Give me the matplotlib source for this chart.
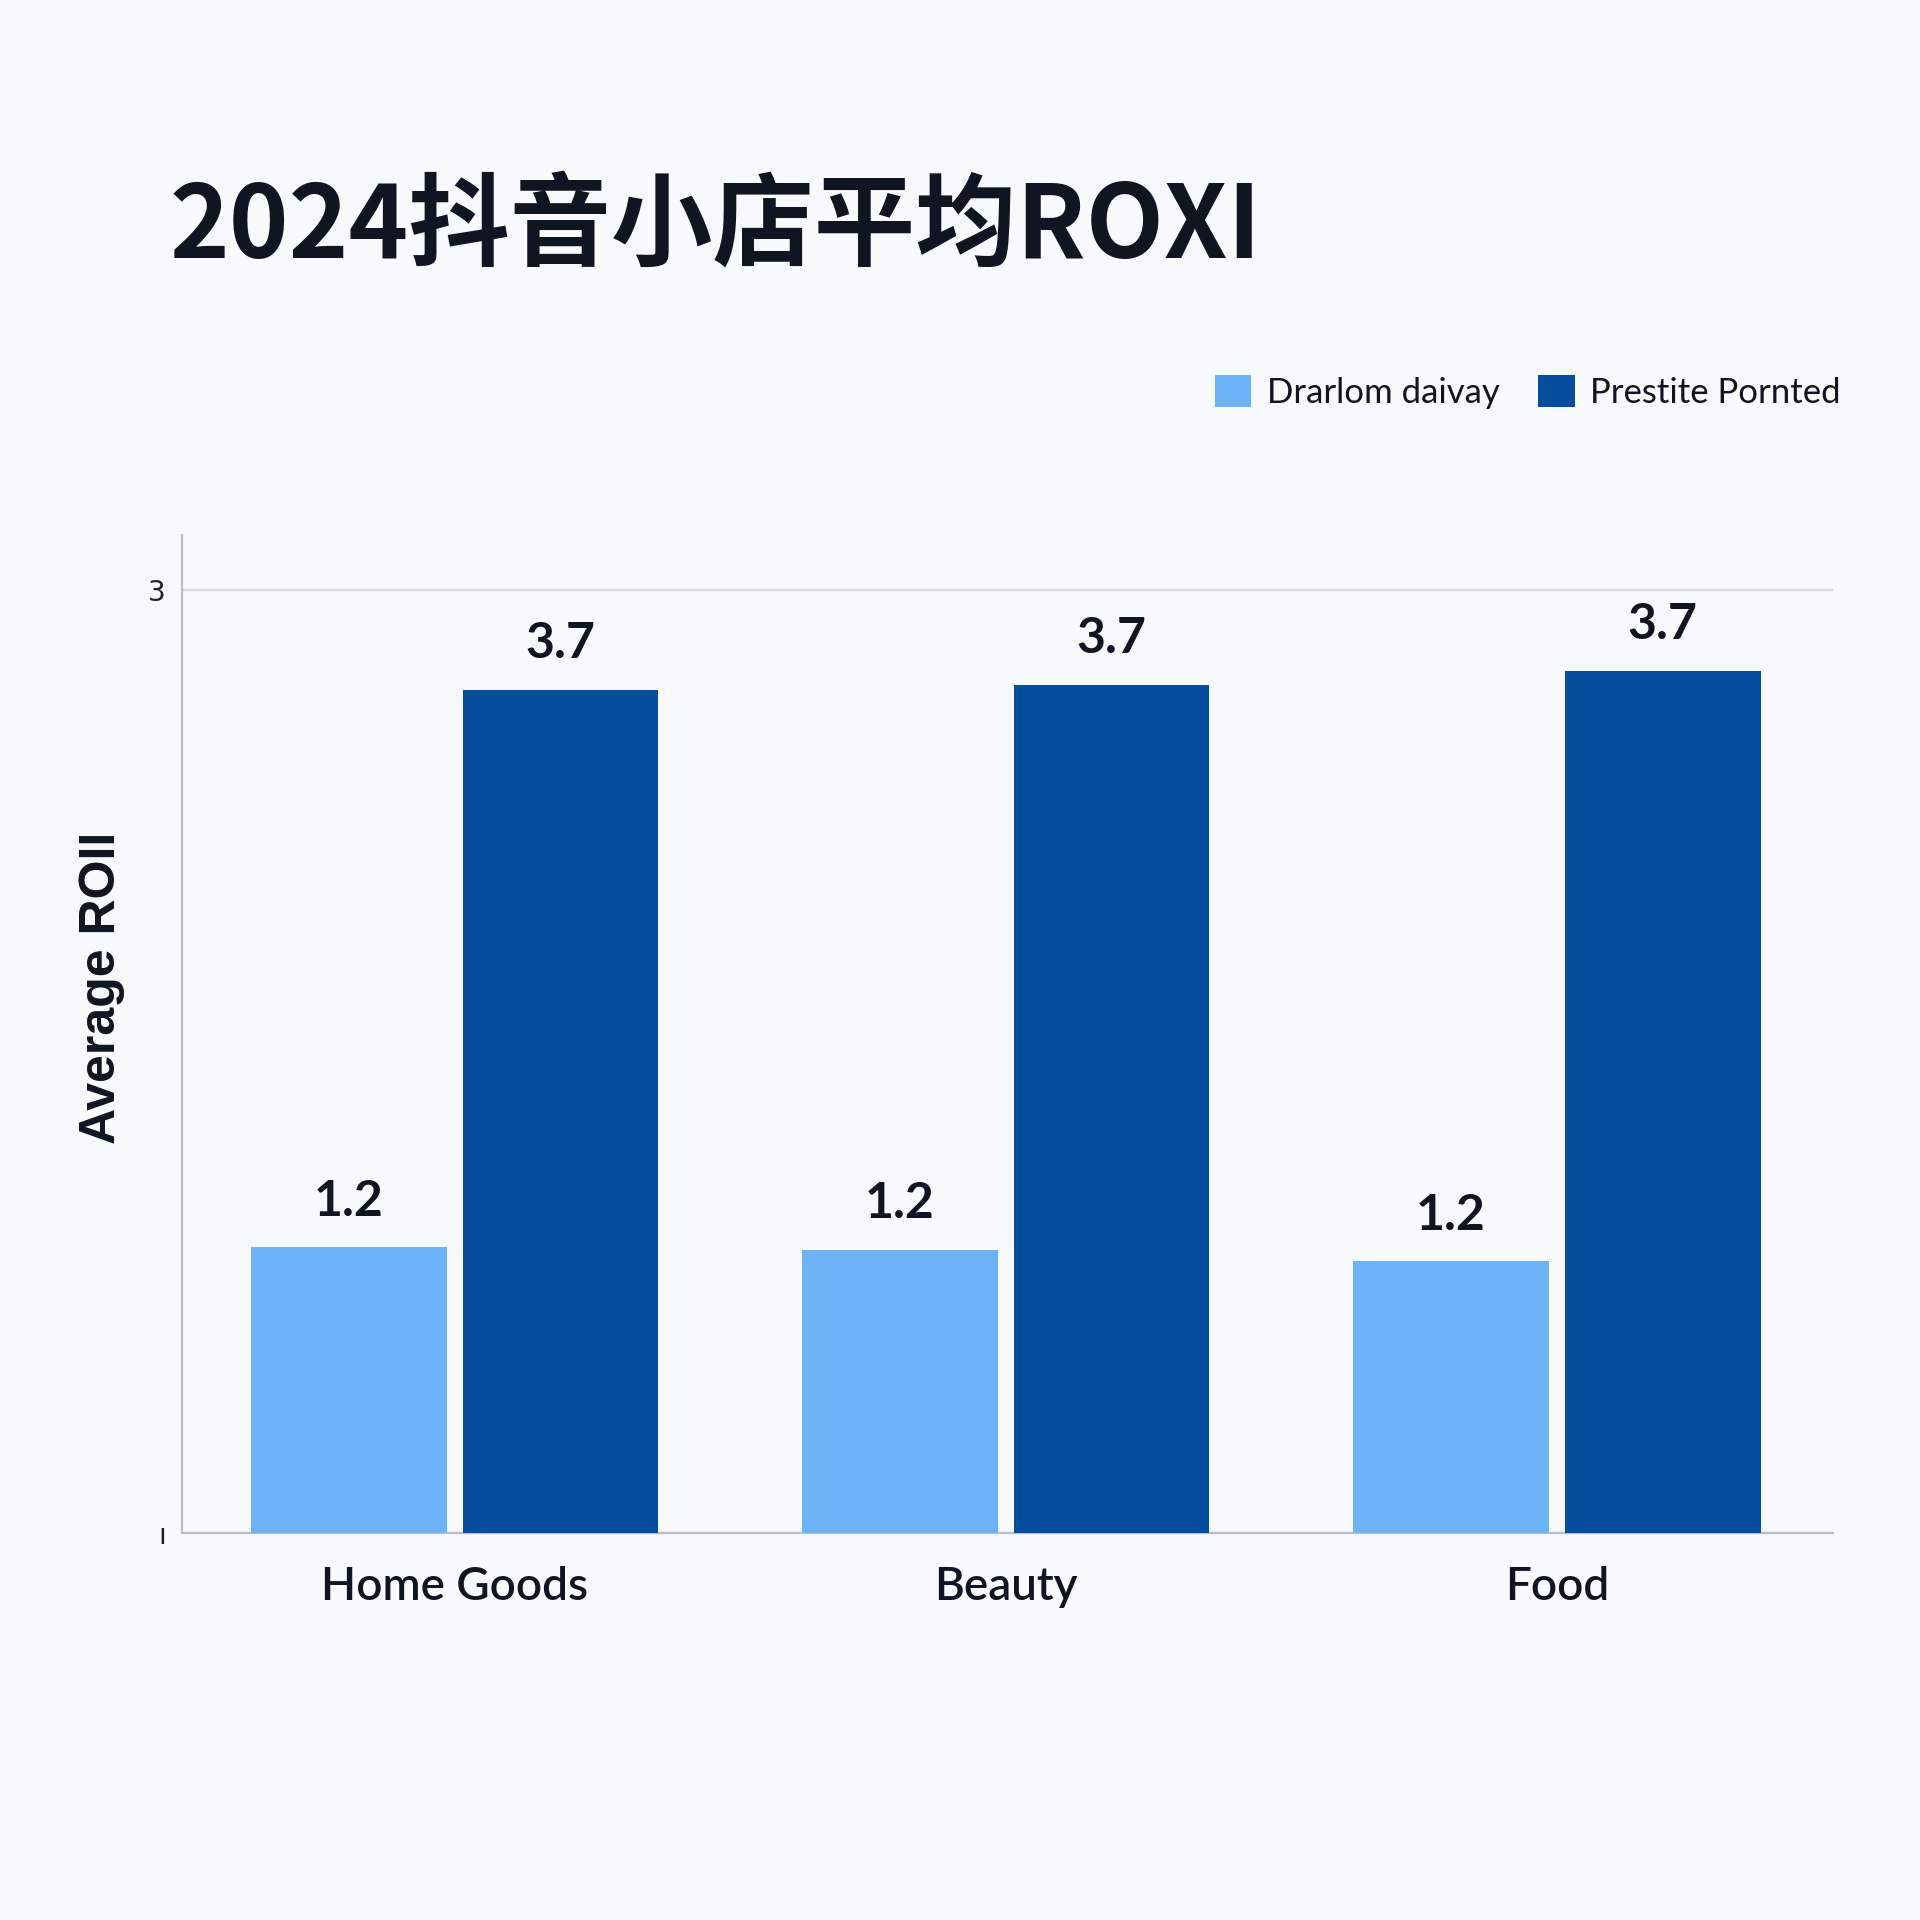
import matplotlib
matplotlib.use('Agg')
import matplotlib.pyplot as plt
import numpy as np

# data
categories = ['Home Goods', 'Beauty', 'Food']
series_names = ['Drarlom daivay', 'Prestite Pornted']
light_vals = [1.24, 1.23, 1.18]
dark_vals = [3.66, 3.68, 3.74]
ytick_pos = [0, 4.09]
ytick_labels = ['ı', '3']

title = '2024抖音小店平均ROXI'
ylabel = 'Average ROII'

bg = '#f8f9fb'
c_light = '#6bb3f6'
c_dark = '#054e9d'
c_text = '#101522'

plt.rcParams['font.family'] = ['Lato', 'Noto Sans CJK SC', 'DejaVu Sans']

fig = plt.figure(figsize=(19.2, 19.2), dpi=100, facecolor=bg)
ax = fig.add_axes([0.095, 0.2015, 0.8597, 0.5198], facecolor=bg)

x = np.arange(len(categories))
w = 0.355
off = 0.192
b1 = ax.bar(x - off, light_vals, w, color=c_light, label=series_names[0], zorder=3)
b2 = ax.bar(x + off, dark_vals, w, color=c_dark, label=series_names[1], zorder=3)

for bars, vals in [(b1, light_vals), (b2, dark_vals)]:
    for r, v in zip(bars, vals):
        ax.annotate('%.1f' % v, (r.get_x() + r.get_width() / 2, r.get_height()),
                    xytext=(0, 17), textcoords='offset points',
                    ha='center', va='bottom', fontsize=36, fontweight='bold',
                    color=c_text)

ax.set_xlim(-0.494, 2.501)
ax.set_ylim(0, 4.33)
ax.set_xticks(x)
ax.set_xticklabels(categories, fontsize=33, fontweight='semibold', color=c_text)
ax.set_yticks(ytick_pos)
ax.set_yticklabels(ytick_labels, fontsize=20, color='#222', family=['DejaVu Sans'])
ax.tick_params(axis='x', length=0, pad=24)
ax.tick_params(axis='y', length=0, pad=12)
ax.yaxis.grid(True, color='#d3d6dd', linewidth=1.6, zorder=0)
ax.set_axisbelow(True)

for s in ['top', 'right']:
    ax.spines[s].set_visible(False)
for s in ['left', 'bottom']:
    ax.spines[s].set_color('#b9bdc7')
    ax.spines[s].set_linewidth(1.6)

fig.text(0.053, 0.4854, ylabel, rotation=90, ha='center', va='center',
         fontsize=36, fontweight='bold', color=c_text, family=['Liberation Sans', 'DejaVu Sans'])

fig.text(0.088, 0.881, title, ha='left', va='center', fontsize=73, fontweight='bold',
         color=c_text, family=['Noto Sans CJK SC', 'DejaVu Sans'])

leg = ax.legend(loc='center right', bbox_to_anchor=(0.975, 0.796),
                bbox_transform=fig.transFigure, ncol=2, frameon=False,
                fontsize=25, handlelength=1.05, handleheight=1.05,
                handletextpad=0.45, columnspacing=1.1, labelcolor=c_text)

fig.savefig('out.png', dpi=100, facecolor=bg)
